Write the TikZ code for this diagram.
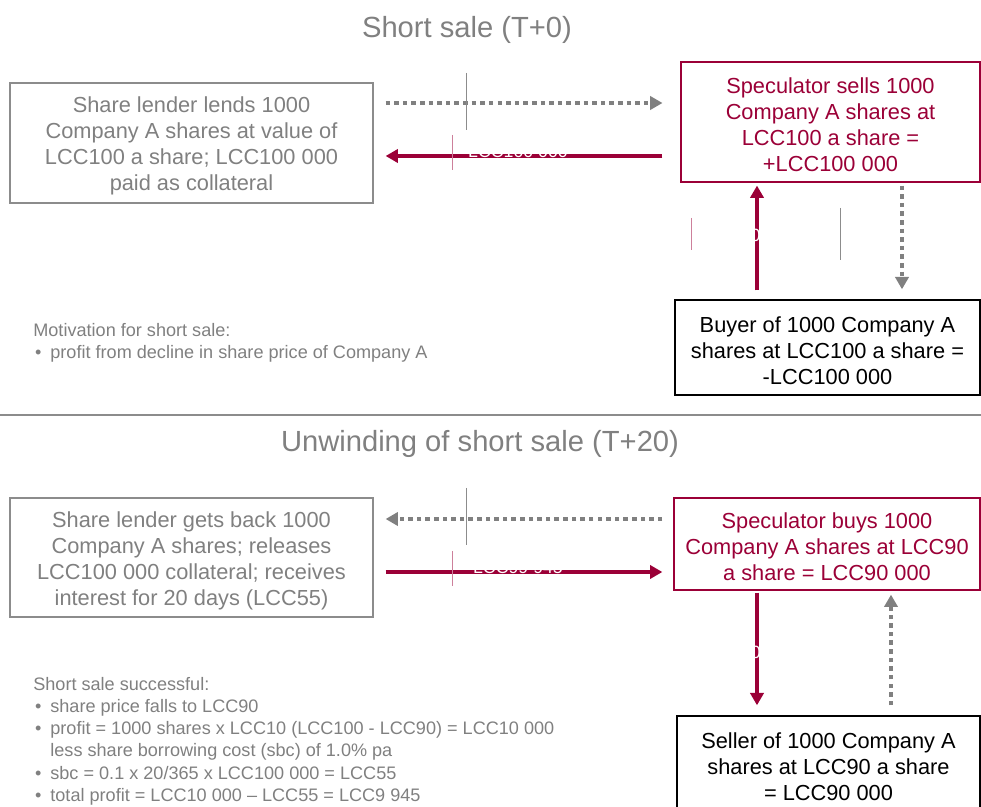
\documentclass[tikz,border=0pt]{standalone}
\usepackage{fontspec}
\setmainfont{Liberation Sans}
\usetikzlibrary{arrows.meta}
\definecolor{lccred}{RGB}{155,0,55}
\definecolor{txtgray}{RGB}{128,128,128}
\definecolor{linegray}{RGB}{140,140,140}
\newcommand\bulitem{\hspace*{1pt}\makebox[8.7pt][l]{•}}
\newcommand\bulgap{\hspace*{9.7pt}}
\newcommand\topfix{\rule{0pt}{12.6pt}}

\begin{document}
\begin{tikzpicture}[x=0.02cm,y=-0.02cm,
  box/.style={draw, line width=0.8pt, align=center, inner sep=0pt, font=\fontsize{12.4}{14.8}\selectfont},
  lenderbox/.style={box, draw=linegray, text=txtgray, minimum width=7.26cm},
  specbox/.style={box, draw=lccred, text=lccred, line width=0.7pt},
  cptybox/.style={box, draw=black, text=black},
  redarr/.style={draw=lccred, line width=2.3pt, -{Triangle[length=7pt,width=7.5pt]}},
  dotarr/.style={draw=txtgray, line width=2.3pt, dash pattern=on 2.6pt off 2.3pt, -{Triangle[length=7pt,width=7.5pt]}},
  title/.style={text=txtgray, font=\fontsize{16.6}{20}\selectfont},
  notes/.style={text=txtgray, align=left, inner sep=0pt, anchor=north west, font=\fontsize{10.3}{12.6}\selectfont},
  hidden/.style={text=white, inner sep=0pt, font=\fontsize{10.1}{12}\selectfont},
  ghost/.style={line width=0.4pt}
]
\useasboundingbox (0,0) rectangle (981,807);

% short sale
\node[title] (t1) at (467,30) {Short sale (T+0)};
\node[lenderbox, minimum height=2.4cm] (lend1) at (191.5,143)
  {\topfix Share lender lends 1000\\Company A shares at value of\\LCC100 a share; LCC100 000\\paid as collateral};
\node[specbox, minimum width=5.98cm, minimum height=2.4cm] (spec1) at (830.5,122)
  {\topfix Speculator sells 1000\\Company A shares at\\LCC100 a share =\\+LCC100 000};
\node[cptybox, minimum width=6.1cm, minimum height=1.9cm] (buyer) at (827.5,347.5)
  {\topfix Buyer of 1000 Company A\\shares at LCC100 a share =\\-LCC100 000};

\draw[dotarr, shorten <=6.8pt, shorten >=10.2pt] (lend1.east |- 0,103) -- (spec1.west |- 0,103);
\draw[redarr, shorten <=10.2pt, shorten >=6.8pt] (spec1.west |- 0,156) -- (lend1.east |- 0,156);
\draw[redarr, shorten <=5.1pt, shorten >=1.7pt] (buyer.north -| 757,0) -- (spec1.south -| 757,0);
\draw[dotarr, shorten <=1.7pt, shorten >=5.7pt] (spec1.south -| 902,0) -- (buyer.north -| 902,0);

\node[hidden, anchor=base] (cash1) at (518,158) {LCC100 000};
\node[hidden, anchor=east] (cash2) at (761,235) {LCC100 000};

\draw[ghost, linegray] (466,73) -- (466,130);
\draw[ghost, lccred!50] (452,135) -- (452,170);
\draw[ghost, lccred!50] (691,218) -- (691,250);
\draw[ghost, linegray] (840,208) -- (840,260);

\node[notes] (motive) at (33,323)
  {Motivation for short sale:\\\bulitem profit from decline in share price of Company A};

\draw[linegray, line width=1.2pt] (0,415) -- (981,415);

% unwinding
\node[title] (t2) at (480,444) {Unwinding of short sale (T+20)};
\node[lenderbox, minimum height=2.38cm] (lend2) at (191.5,557.5)
  {\topfix Share lender gets back 1000\\Company A shares; releases\\LCC100 000 collateral; receives\\interest for 20 days (LCC55)};
\node[specbox, minimum width=6.12cm, minimum height=1.84cm] (spec2) at (827,544)
  {\topfix Speculator buys 1000\\Company A shares at LCC90\\a share = LCC90 000};
\node[cptybox, minimum width=6.06cm, minimum height=1.92cm] (seller) at (828.5,764)
  {\topfix Seller of 1000 Company A\\shares at LCC90 a share\\= LCC90 000};

\draw[dotarr, shorten <=6.3pt, shorten >=6.8pt] (spec2.west |- 0,519) -- (lend2.east |- 0,519);
\draw[redarr, shorten <=6.8pt, shorten >=6.3pt] (lend2.east |- 0,572) -- (spec2.west |- 0,572);
\draw[redarr, shorten <=1.1pt, shorten >=5.7pt] (spec2.south -| 757,0) -- (seller.north -| 757,0);
\draw[dotarr, shorten <=5.7pt, shorten >=2.3pt] (seller.north -| 891,0) -- (spec2.south -| 891,0);

\node[hidden, anchor=base] (cash3) at (518,574) {LCC99 945};
\node[hidden, anchor=east] (cash4) at (761,652) {LCC90 000};

\draw[ghost, linegray] (466,488) -- (466,545);
\draw[ghost, lccred!50] (452,551) -- (452,586);

\node[notes] (result) at (33,677)
  {Short sale successful:\\
   \bulitem share price falls to LCC90\\
   \bulitem profit = 1000 shares x LCC10 (LCC100 - LCC90) = LCC10 000\\
   \bulgap less share borrowing cost (sbc) of 1.0\% pa\\
   \bulitem sbc = 0.1 x 20/365 x LCC100 000 = LCC55\\
   \bulitem total profit = LCC10 000 – LCC55 = LCC9 945};
\end{tikzpicture}
\end{document}
